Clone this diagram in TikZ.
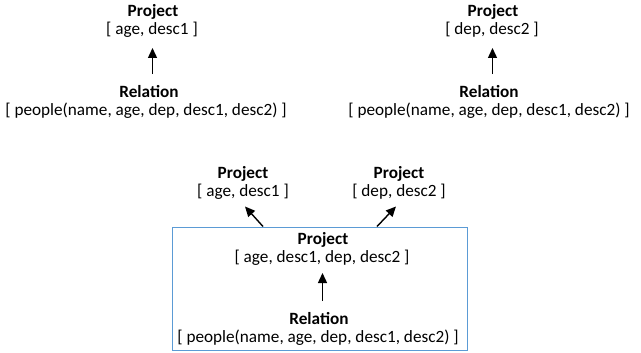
\documentclass[tikz,border=0pt]{standalone}
\usepackage{fontspec}
\setmainfont{Carlito}
\usetikzlibrary{arrows.meta}
\definecolor{boxblue}{RGB}{91,155,213}
\begin{document}
\begin{tikzpicture}[x=1pt,y=1pt,
  txt/.style={inner sep=0pt,anchor=base,font=\fontsize{17.2}{18}\selectfont},
  ttl/.style={txt,font=\fontsize{17.2}{18}\selectfont\bfseries},
  arr/.style={line width=1.4pt,-{Triangle[length=10pt,width=9pt]}}]
\useasboundingbox (0,0) rectangle (641,-353);
% top left
\node[ttl] (p1t) at (153,-16.5) {Project};
\node[txt] (p1f) at (152,-34.5) {[ age, desc1 ]};
\node[ttl] (r1t) at (149,-97.5) {Relation};
\node[txt] (r1f) at (146,-115.5) {[ people(name, age, dep, desc1, desc2) ]};
% top right
\node[ttl] (p2t) at (493,-16.5) {Project};
\node[txt] (p2f) at (492,-34.5) {[ dep, desc2 ]};
\node[ttl] (r2t) at (489,-97.5) {Relation};
\node[txt] (r2f) at (489,-115.5) {[ people(name, age, dep, desc1, desc2) ]};
% bottom
\node[ttl] (p3t) at (243,-178.5) {Project};
\node[txt] (p3f) at (243,-196.5) {[ age, desc1 ]};
\node[ttl] (p4t) at (399,-178.5) {Project};
\node[txt] (p4f) at (399,-196.5) {[ dep, desc2 ]};
\node[draw=boxblue,line width=1pt,minimum width=295pt,minimum height=123pt,inner sep=0pt] (box) at (319.5,-288.5) {};
\node[ttl] (p5t) at (323,-244.5) {Project};
\node[txt] (p5f) at (322,-262.5) {[ age, desc1, dep, desc2 ]};
\node[ttl] (r5t) at (319,-324.5) {Relation};
\node[txt] (r5f) at (318,-342.5) {[ people(name, age, dep, desc1, desc2) ]};
% arrows
\draw[arr] (r1t.north -| 152.5,0) ++(0,11) coordinate (a1s) -- (a1s |- 0,-48) coordinate (a1e);
\draw[arr] (r2t.north -| 492.5,0) ++(0,11) coordinate (a2s) -- (a2s |- 0,-48) coordinate (a2e);
\draw[arr] (r5t.north -| 322.5,0) ++(0,11) coordinate (a5s) -- (a5s |- 0,-273) coordinate (a5e);
\draw[arr] ([xshift=-56.5pt]box.north) -- ++(-18,20) coordinate (a3e);
\draw[arr] ([xshift=57.5pt]box.north) -- ++(19,20) coordinate (a4e);
\end{tikzpicture}
\end{document}
